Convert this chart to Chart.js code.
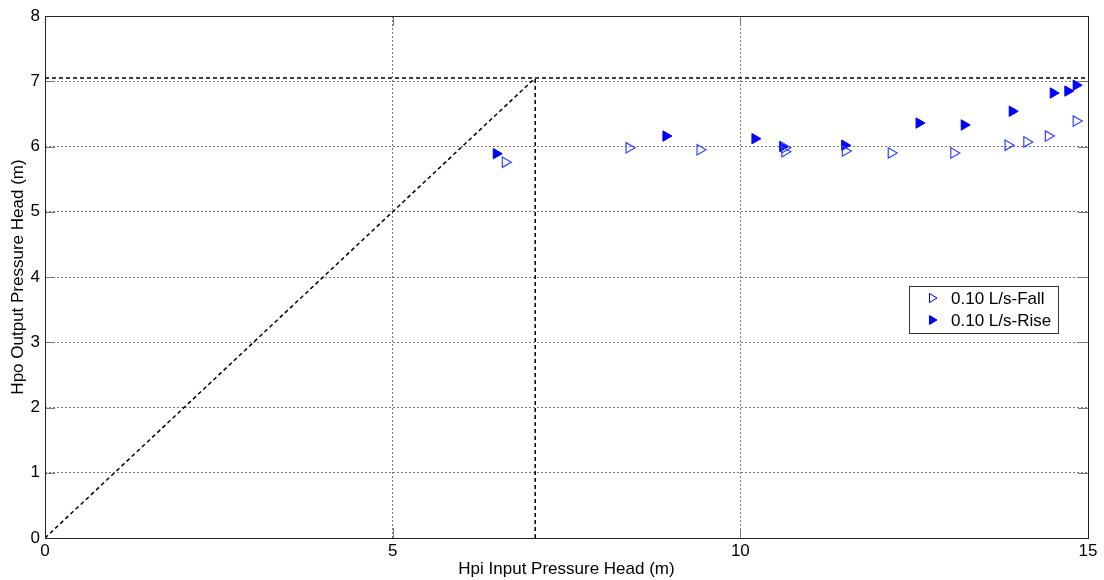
<!DOCTYPE html>
<html>
<head>
<meta charset="utf-8">
<script src="https://cdn.jsdelivr.net/npm/chart.js@4.4.1/dist/chart.umd.min.js"></script>
<style>
  html, body { margin: 0; padding: 0; background: #fff; }
  #wrap { width: 1104px; height: 580px; position: relative; }
</style>
</head>
<body>
<div id="wrap"><canvas id="c" width="1104" height="580"></canvas></div>
<script>
// Data
const fallX = [6.62, 8.40, 9.42, 10.64, 10.64, 11.51, 12.17, 13.07, 13.85, 14.12, 14.43, 14.83];
const fallY = [5.76, 5.98, 5.95, 5.98, 5.92, 5.93, 5.90, 5.90, 6.02, 6.07, 6.16, 6.39];
const riseX = [6.49, 8.93, 10.21, 10.61, 11.50, 12.57, 13.22, 13.91, 14.50, 14.71, 14.83];
const riseY = [5.89, 6.16, 6.12, 6.00, 6.02, 6.36, 6.33, 6.54, 6.82, 6.85, 6.94];
const threshold = 7.05;
const xMax = 15, yMax = 8;
const xTicks = [0, 5, 10, 15];
const yTicks = [0, 1, 2, 3, 4, 5, 6, 7, 8];
const seriesNames = ['0.10 L/s-Fall', '0.10 L/s-Rise'];

const FONT = "'Liberation Sans', Arial, sans-serif";
const toPts = (xs, ys) => xs.map((x, i) => ({ x: x, y: ys[i] }));

const diagLine = [{ x: 0, y: 0 }, { x: threshold, y: threshold }];
const horizLine = [{ x: 0, y: threshold }, { x: xMax, y: threshold }];
const vertLine = [{ x: threshold, y: 0 }, { x: threshold, y: threshold }];

const dashStyle = {
  showLine: true, pointRadius: 0, borderColor: '#000', borderWidth: 1.5,
  borderDash: [4, 3], fill: false, tension: 0
};

const boxPlugin = {
  id: 'boxPlugin',
  afterDatasetsDraw(chart) {
    const { ctx, chartArea: a, scales } = chart;
    ctx.save();
    // inward tick marks
    ctx.strokeStyle = '#777';
    ctx.lineWidth = 1;
    ctx.beginPath();
    xTicks.forEach(t => {
      const px = Math.round(scales.x.getPixelForValue(t)) + 0.5;
      ctx.moveTo(px, a.bottom); ctx.lineTo(px, a.bottom - 10);
      ctx.moveTo(px, a.top); ctx.lineTo(px, a.top + 10);
    });
    yTicks.forEach(t => {
      const py = Math.round(scales.y.getPixelForValue(t)) + 0.5;
      ctx.moveTo(a.left, py); ctx.lineTo(a.left + 10, py);
      ctx.moveTo(a.right, py); ctx.lineTo(a.right - 10, py);
    });
    ctx.stroke();
    // axes box
    ctx.strokeStyle = '#222';
    ctx.lineWidth = 1;
    ctx.strokeRect(Math.round(a.left) + 0.5, Math.round(a.top) + 0.5,
      Math.round(a.right - a.left), Math.round(a.bottom - a.top));
    // legend box inside the axes
    const lx = 909, ly = 286, lw = 149, lh = 47;
    ctx.fillStyle = '#fff';
    ctx.fillRect(lx, ly, lw, lh);
    ctx.strokeStyle = '#333';
    ctx.strokeRect(lx + 0.5, ly + 0.5, lw, lh);
    const rows = [ly + 12, ly + 34];
    rows.forEach((ry, i) => {
      const mx = lx + 24;
      ctx.beginPath();
      ctx.moveTo(mx - 3.5, ry - 4.5);
      ctx.lineTo(mx + 4, ry);
      ctx.lineTo(mx - 3.5, ry + 4.5);
      ctx.closePath();
      ctx.strokeStyle = '#0000ff';
      ctx.lineWidth = 1;
      if (i === 1) { ctx.fillStyle = '#0000ff'; ctx.fill(); }
      ctx.stroke();
      ctx.fillStyle = '#000';
      ctx.font = '17px ' + FONT;
      ctx.textAlign = 'left';
      ctx.textBaseline = 'middle';
      ctx.fillText(seriesNames[i], lx + 42, ry + 1);
    });
    ctx.restore();
  }
};

new Chart(document.getElementById('c'), {
  type: 'scatter',
  data: {
    datasets: [
      Object.assign({ label: 'diag', data: diagLine }, dashStyle),
      Object.assign({ label: 'horiz', data: horizLine }, dashStyle),
      Object.assign({ label: 'vert', data: vertLine }, dashStyle),
      {
        label: seriesNames[0], data: toPts(fallX, fallY),
        pointStyle: 'triangle', rotation: 90, pointRadius: 6,
        pointBackgroundColor: 'rgba(255,255,255,0)', pointBorderColor: '#3344ff',
        pointBorderWidth: 1.2, showLine: false
      },
      {
        label: seriesNames[1], data: toPts(riseX, riseY),
        pointStyle: 'triangle', rotation: 90, pointRadius: 6,
        pointBackgroundColor: '#0000ff', pointBorderColor: '#0000ff',
        pointBorderWidth: 1, showLine: false
      }
    ]
  },
  options: {
    responsive: false,
    animation: false,
    layout: { padding: { top: 16, right: 16, left: 8, bottom: 0 } },
    plugins: { legend: { display: false }, tooltip: { enabled: false } },
    scales: {
      x: {
        type: 'linear', min: 0, max: xMax,
        afterBuildTicks: s => { s.ticks = xTicks.map(v => ({ value: v })); },
        afterFit: s => { s.height = 42; },
        ticks: { color: '#000', font: { family: FONT, size: 17 }, padding: 3, maxRotation: 0 },
        grid: { color: '#777', lineWidth: 1, drawTicks: false, tickLength: 0 },
        border: { display: false, dash: [2, 2] },
        title: { display: true, text: 'Hpi Input Pressure Head (m)', color: '#000',
          font: { family: FONT, size: 17 }, padding: { top: 0, bottom: 0 } }
      },
      y: {
        type: 'linear', min: 0, max: yMax,
        afterBuildTicks: s => { s.ticks = yTicks.map(v => ({ value: v })); },
        afterFit: s => { s.width = 37; },
        ticks: { color: '#000', font: { family: FONT, size: 17 }, padding: 5 },
        grid: { color: '#777', lineWidth: 1, drawTicks: false, tickLength: 0 },
        border: { display: false, dash: [2, 2] },
        title: { display: true, text: 'Hpo Output Pressure Head (m)', color: '#000',
          font: { family: FONT, size: 17 }, padding: { top: 0, bottom: 0 } }
      }
    }
  },
  plugins: [boxPlugin]
});
</script>
</body>
</html>
